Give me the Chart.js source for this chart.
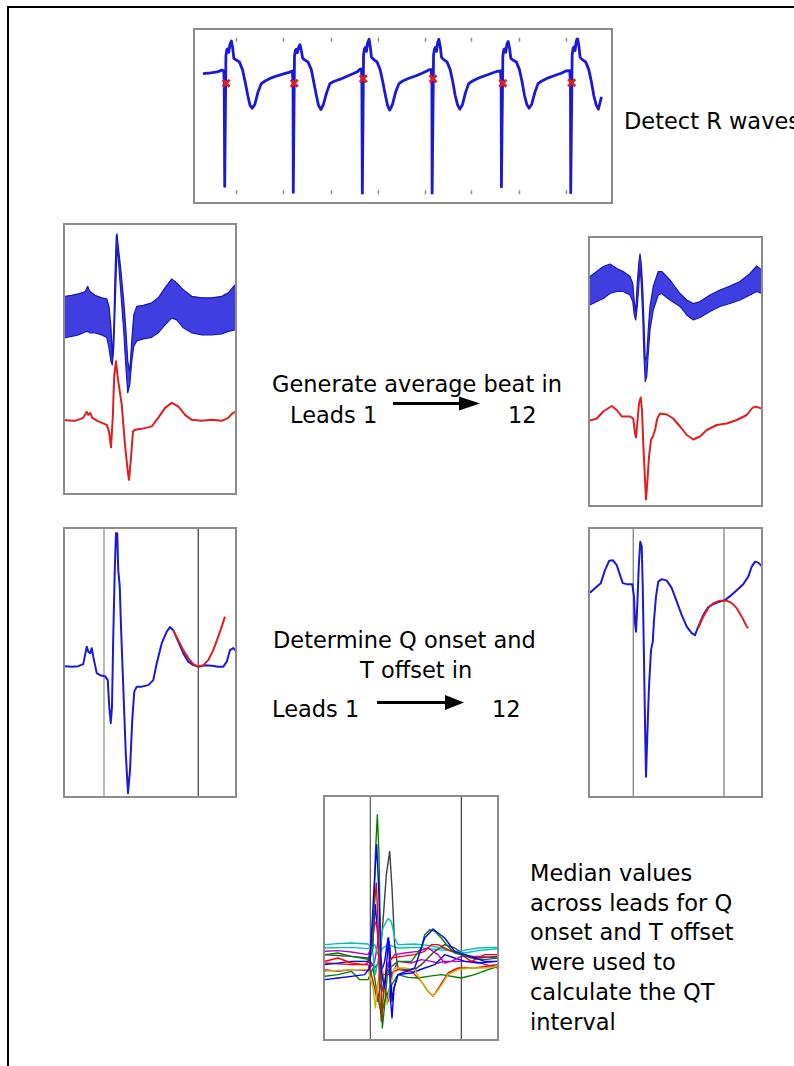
<!DOCTYPE html>
<html><head><meta charset="utf-8">
<script src="https://cdn.jsdelivr.net/npm/chart.js@4.4.0/dist/chart.umd.min.js"></script>
<style>
html,body{margin:0;padding:0;background:#fff;}
body{width:794px;height:1066px;position:relative;overflow:hidden;font-family:'DejaVu Sans',sans-serif;}
.frame{position:absolute;left:7px;top:6px;width:820px;height:1100px;border-left:2px solid #000;border-top:2px solid #000;}
.panel{position:absolute;border:2px solid #8c8c8c;box-sizing:border-box;background:#fff;}
.panel canvas{display:block;}
.txt{position:absolute;font-size:22.5px;line-height:30px;color:#000;white-space:nowrap;}
svg.arrows{position:absolute;left:0;top:0;}
</style></head><body>
<div class="frame"></div>
<div class="panel" style="left:193px;top:28px;width:420px;height:176px"><canvas id="strip" width="416" height="172"></canvas></div>
<div class="panel" style="left:63px;top:223px;width:174px;height:272px"><canvas id="avg1" width="170" height="268"></canvas></div>
<div class="panel" style="left:588px;top:236px;width:175px;height:271px"><canvas id="avg12" width="171" height="267"></canvas></div>
<div class="panel" style="left:63px;top:527px;width:174px;height:271px"><canvas id="qt1" width="170" height="267"></canvas></div>
<div class="panel" style="left:588px;top:527px;width:175px;height:271px"><canvas id="qt12" width="171" height="267"></canvas></div>
<div class="panel" style="left:323px;top:795px;width:176px;height:246px"><canvas id="all" width="172" height="242"></canvas></div>

<div class="txt" style="left:624px;top:105.5px">Detect R waves</div>
<div class="txt" style="left:272px;top:369px">Generate average beat in</div>
<div class="txt" style="left:290px;top:400px">Leads 1</div>
<div class="txt" style="left:508px;top:400px">12</div>
<div class="txt" style="left:273px;top:625px">Determine Q onset and</div>
<div class="txt" style="left:360px;top:655px">T offset in</div>
<div class="txt" style="left:272px;top:694px">Leads 1</div>
<div class="txt" style="left:492px;top:694px">12</div>
<div class="txt" style="left:530px;top:859px;line-height:29.7px">Median values<br>across leads for Q<br>onset and T offset<br>were used to<br>calculate the QT<br>interval</div>

<svg class="arrows" width="794" height="1066">
  <line x1="393" y1="403.5" x2="462" y2="403.5" stroke="#000" stroke-width="3"/>
  <polygon points="459,396.5 480,403.5 459,410.5" fill="#000"/>
  <line x1="377" y1="702.5" x2="447" y2="702.5" stroke="#000" stroke-width="3"/>
  <polygon points="445,695 464,702.5 445,710" fill="#000"/>
</svg>

<script>
// ---- Panel 1: raw ECG strip (time ms, amplitude mV) ----
const stripTimeMs = [4, 37, 64, 84,
 91, 93, 95, 100, 104, 108, 112, 117, 123, 128, 133, 143, 156, 169, 180, 191, 200, 209, 220, 233, 247, 263, 289, 316, 343, 363,
 376, 379, 380, 385, 389, 393, 397, 403, 408, 413, 419, 428, 441, 455, 465, 476, 485, 495, 505, 519, 532, 548, 575, 601, 628, 648, 657,
 663, 665, 667, 672, 676, 680, 684, 689, 695, 700, 705, 715, 728, 741, 752, 763, 772, 781, 792, 805, 819, 835, 861, 888, 915, 935, 945,
 953, 956, 957, 963, 967, 971, 975, 980, 985, 991, 996, 1005, 1019, 1032, 1043, 1053, 1063, 1072, 1083, 1096, 1109, 1125, 1152, 1179, 1205, 1225,
 1241, 1244, 1245, 1251, 1255, 1259, 1263, 1268, 1273, 1279, 1284, 1293, 1307, 1320, 1331, 1341, 1351, 1360, 1371, 1384, 1397, 1413, 1440, 1467, 1493, 1513,
 1529, 1532, 1533, 1539, 1543, 1547, 1551, 1556, 1561, 1567, 1572, 1581, 1595, 1608, 1619, 1629, 1639, 1648, 1661];
const stripAmpMv = [-0.03, -0.01, 0.01, 0.05,
 0.03, -0.24, -2.51, 0.36, 0.50, 0.52, 0.44, 0.62, 0.69, 0.54, 0.31, 0.27, 0.23, 0.06, -0.21, -0.51, -0.72, -0.79, -0.71, -0.44, -0.25, -0.19, -0.12, -0.07, -0.03, 0.00,
 0.03, -0.24, -2.64, 0.36, 0.49, 0.51, 0.43, 0.57, 0.61, 0.49, 0.31, 0.27, 0.23, 0.06, -0.21, -0.51, -0.73, -0.82, -0.71, -0.44, -0.25, -0.20, -0.15, -0.09, -0.03, 0.02, 0.07,
 0.07, -0.14, -2.69, 0.38, 0.52, 0.55, 0.46, 0.65, 0.73, 0.56, 0.33, 0.28, 0.23, 0.06, -0.21, -0.51, -0.73, -0.83, -0.71, -0.44, -0.25, -0.19, -0.13, -0.08, -0.02, 0.03, 0.06,
 0.06, -0.14, -2.69, 0.38, 0.52, 0.55, 0.46, 0.65, 0.73, 0.56, 0.33, 0.28, 0.23, 0.06, -0.21, -0.51, -0.72, -0.81, -0.71, -0.44, -0.25, -0.19, -0.12, -0.07, -0.02, 0.02,
 0.03, -0.24, -2.52, 0.36, 0.50, 0.52, 0.44, 0.62, 0.68, 0.53, 0.31, 0.27, 0.23, 0.06, -0.21, -0.51, -0.71, -0.79, -0.70, -0.44, -0.25, -0.19, -0.12, -0.07, -0.02, 0.03,
 0.04, -0.23, -2.65, 0.38, 0.53, 0.56, 0.48, 0.68, 0.76, 0.58, 0.33, 0.28, 0.23, 0.06, -0.21, -0.51, -0.72, -0.81, -0.54];
const rWaveTimeMs = [101, 384, 671, 961, 1251, 1537];
const rWaveAmpMv = [-0.24, -0.24, -0.14, -0.14, -0.24, -0.23];
const stripTickMs = [140, 336, 536, 732, 928, 1120, 1316, 1512];

// ---- Panel 2: beats of lead 1 (envelope of overlaid beats) and average ----
const avg1BandTimeMs = [-3, 27, 53, 80, 91, 99, 120, 147, 167, 176, 184, 189, 195, 200, 205, 208, 213, 224, 235, 243, 251, 259, 267, 275, 287, 313, 347, 373, 400, 427, 447, 473, 507, 547, 587, 627, 653, 680];
const avg1BandUpperMv = [2.48, 2.50, 2.53, 2.57, 2.68, 2.58, 2.50, 2.45, 2.43, 2.28, 1.85, 1.25, 1.85, 2.91, 3.68, 3.73, 3.48, 2.98, 2.38, 1.85, 1.18, 0.98, 1.58, 2.11, 2.28, 2.30, 2.35, 2.45, 2.65, 2.83, 2.75, 2.61, 2.48, 2.45, 2.45, 2.48, 2.55, 2.71];
const avg1BandLowerMv = [1.65, 1.68, 1.71, 1.77, 1.78, 1.75, 1.75, 1.71, 1.66, 1.45, 1.17, 1.11, 1.45, 2.18, 2.98, 3.45, 3.25, 2.51, 1.78, 1.11, 0.55, 0.71, 1.18, 1.48, 1.59, 1.63, 1.66, 1.75, 1.91, 2.05, 2.01, 1.85, 1.75, 1.71, 1.71, 1.73, 1.78, 1.81];
const avg1MeanTimeMs = [0, 40, 73, 87, 93, 101, 109, 133, 167, 176, 184, 191, 197, 204, 211, 217, 227, 240, 251, 256, 264, 272, 280, 307, 347, 373, 400, 427, 453, 480, 507, 547, 587, 627, 653, 667, 680];
const avg1MeanMv = [0, -0.01, 0.05, 0.17, 0.11, 0.15, 0.05, -0.02, -0.09, -0.22, -0.54, 0.05, 0.91, 1.18, 0.85, 0.65, 0.31, -0.49, -1.02, -1.19, -0.75, -0.22, -0.19, -0.17, -0.12, 0.05, 0.25, 0.35, 0.28, 0.11, 0.01, -0.01, 0.01, -0.01, 0.05, 0.13, 0.17];

// ---- Panel 3: beats of lead 12 and average ----
const avg12BandTimeMs = [0, 27, 53, 80, 107, 133, 160, 171, 177, 183, 189, 195, 200, 205, 211, 216, 221, 227, 233, 240, 253, 273, 287, 320, 360, 387, 413, 440, 480, 520, 560, 600, 640, 667, 687];
const avg12BandUpperMv = [2.87, 2.97, 3.07, 3.12, 3.03, 2.97, 2.87, 2.73, 2.37, 2.17, 2.73, 3.13, 3.32, 3.13, 2.63, 1.93, 1.20, 1.27, 1.80, 2.27, 2.67, 2.97, 2.97, 2.80, 2.53, 2.40, 2.33, 2.37, 2.50, 2.60, 2.68, 2.77, 2.93, 3.08, 3.00];
const avg12BandLowerMv = [2.30, 2.37, 2.43, 2.53, 2.57, 2.57, 2.50, 2.37, 2.10, 2.00, 2.27, 2.67, 3.07, 2.73, 2.07, 1.27, 0.77, 0.87, 1.33, 1.80, 2.20, 2.50, 2.53, 2.40, 2.27, 2.10, 2.00, 2.05, 2.17, 2.27, 2.33, 2.40, 2.50, 2.57, 2.53];
const avg12MeanTimeMs = [0, 27, 53, 87, 107, 127, 160, 173, 180, 184, 189, 196, 203, 208, 213, 220, 224, 229, 236, 244, 251, 260, 269, 280, 307, 333, 360, 387, 413, 440, 467, 507, 547, 587, 627, 647, 660, 687];
const avg12MeanMv = [-0.01, 0.03, 0.17, 0.28, 0.20, 0.07, 0.07, 0.03, -0.27, -0.35, -0.07, 0.33, 0.45, 0.20, -0.47, -1.20, -1.59, -1.27, -0.73, -0.40, -0.33, -0.20, 0.03, 0.13, 0.11, 0.03, -0.13, -0.30, -0.39, -0.33, -0.20, -0.10, -0.07, 0.00, 0.10, 0.23, 0.27, 0.23];

// ---- Panel 4: lead 1 average with Q onset / T offset ----
const qt1TimeMs = [0, 27, 53, 73, 87, 93, 101, 107, 113, 127, 140, 160, 171, 177, 183, 188, 193, 199, 204, 209, 213, 219, 224, 233, 243, 252, 260, 269, 277, 287, 307, 333, 353, 367, 387, 407, 420, 433, 453, 473, 493, 513, 533, 560, 587, 613, 633, 647, 660, 673, 687];
const qt1Mv = [0.01, 0.00, 0.01, 0.05, 0.40, 0.30, 0.27, 0.37, 0.20, -0.13, -0.17, -0.19, -0.27, -0.80, -1.13, -0.80, 0.60, 1.93, 2.67, 2.67, 1.93, 1.60, 0.80, -0.40, -1.73, -2.53, -2.07, -1.07, -0.50, -0.40, -0.40, -0.37, -0.27, 0.07, 0.47, 0.70, 0.79, 0.73, 0.50, 0.27, 0.10, 0.03, 0.00, 0.03, 0.02, 0.00, 0.00, 0.10, 0.33, 0.37, 0.30];
const qt1FitTimeMs = [433, 453, 473, 493, 513, 533, 553, 573, 593, 613, 627, 640];
const qt1FitMv = [0.73, 0.53, 0.33, 0.17, 0.05, 0.00, 0.03, 0.13, 0.33, 0.60, 0.80, 1.00];
const qt1OnsetMs = 156, qt1OffsetMs = 533;

// ---- Panel 5: lead 12 average with Q onset / T offset ----
const qt12TimeMs = [0, 20, 43, 60, 77, 91, 107, 120, 131, 147, 169, 176, 180, 184, 189, 195, 201, 207, 211, 216, 221, 224, 229, 236, 244, 251, 256, 264, 273, 287, 307, 327, 347, 367, 387, 407, 420, 433, 453, 473, 493, 520, 540, 560, 587, 613, 633, 647, 660, 673, 687];
const qt12Mv = [-0.12, -0.03, 0.07, 0.33, 0.52, 0.53, 0.43, 0.23, 0.07, 0.05, 0.05, -0.20, -0.73, -0.90, -0.40, 0.40, 0.90, 0.80, 0.00, -1.47, -3.00, -3.80, -3.00, -2.00, -1.27, -1.10, -0.67, -0.20, 0.10, 0.15, 0.12, -0.03, -0.30, -0.57, -0.80, -0.93, -0.97, -0.80, -0.57, -0.41, -0.35, -0.30, -0.27, -0.19, -0.07, 0.05, 0.20, 0.40, 0.50, 0.48, 0.41];
const qt12FitTimeMs = [433, 453, 473, 493, 520, 547, 567, 587, 607, 627, 633];
const qt12FitMv = [-0.83, -0.60, -0.43, -0.33, -0.28, -0.28, -0.33, -0.43, -0.60, -0.80, -0.83];
const qt12OnsetMs = 173, qt12OffsetMs = 536;

// ---- Panel 6: all 12 lead averages (sample index, amplitude a.u.) ----
const lead1X = [20,60,100,140,155,168,176,182,190,200,208,212,218,222,228,240,290,320,345,380,410,440,500,540];
const lead1Y = [-55,-50,-45,-40,-20,220,350,220,-30,-80,20,70,-120,-170,-80,-40,-20,70,97,70,30,20,0,0];
const lead2X = [20,60,100,130,155,165,172,178,183,188,193,200,208,215,240,280,310,320,335,350,370,390,410,430,460,500,540];
const lead2Y = [20,25,15,10,5,40,320,440,320,20,-200,-130,-40,-20,0,0,40,80,95,90,70,45,25,20,10,5,10];
const lead3X = [20,60,100,140,155,165,175,180,185,190,198,208,220,250,290,320,340,360,380,400,430,460,500,540];
const lead3Y = [0,10,-5,-10,0,120,235,120,-100,-180,-80,-10,10,15,20,30,50,50,40,30,20,0,20,20];
const lead4X = [20,60,100,150,163,172,180,195,210,220,230,240,290,330,370,410,440,480,540];
const lead4Y = [50,53,55,52,40,-40,0,100,128,120,70,50,52,48,40,30,25,32,38];
const lead5X = [20,60,100,150,163,170,178,186,195,205,215,230,260,300,330,360,380,400,430,480,540];
const lead5Y = [30,32,28,20,50,120,100,-40,-90,-40,0,20,25,30,40,20,-5,0,15,15,10];
const lead6X = [20,100,150,165,172,180,190,200,208,215,230,260,290,310,330,345,365,390,420,460,500,540];
const lead6Y = [-30,-25,-25,-80,-140,-60,-10,-90,-130,-80,-20,-20,-25,-60,-90,-105,-80,-40,-25,-20,-20,-15];
const lead7X = [20,100,150,170,185,195,205,215,222,230,240,260,290,310,330,350,380,410,440,480,540];
const lead7Y = [20,15,10,-20,0,120,260,330,220,50,-20,-25,-25,-10,10,30,50,40,20,10,15];
const lead8X = [20,100,150,165,172,180,188,200,210,216,222,228,240,280,320,350,380,410,440,480,540];
const lead8Y = [-10,0,0,70,170,70,-40,0,70,40,-120,-80,-40,-35,-20,-10,20,10,0,-5,0];
const lead9X = [20,60,100,125,150,165,178,190,200,215,240,270,300,330,370,430,470,510,540];
const lead9Y = [-45,-40,-30,-55,-55,-20,-100,-160,-120,-80,-40,-48,-50,-45,-40,-50,-40,-25,-15];
const lead10X = [20,100,150,160,170,178,186,196,210,240,280,310,330,345,365,390,420,470,540];
const lead10Y = [-5,-10,-10,-40,-80,-120,-80,-40,-40,-25,-30,-60,-90,-105,-75,-35,-20,-20,-10];
const lead11X = [20,100,150,170,180,195,210,240,300,360,420,480,540];
const lead11Y = [40,42,38,50,20,40,50,40,42,35,30,40,42];
const lead12X = [20,60,100,150,170,180,190,200,212,222,240,280,310,340,360,380,420,470,540];
const lead12Y = [-25,-30,-25,-28,0,60,0,-80,-120,-40,0,-5,5,0,-5,0,0,0,-20];
const allOnsetSample = 157, allOffsetSample = 430;

// ---------------- drawing ----------------
const BLUE = '#1a1ad6', RED = '#e01e1e';
function pts(xs, ys){ return xs.map((x,i)=>({x:x, y:ys[i]})); }
function line(xs, ys, color, width, extra){
  return Object.assign({data:pts(xs,ys), borderColor:color, borderWidth:width, pointRadius:0, fill:false, tension:0, borderJoinStyle:'round'}, extra||{});
}
function vline(x, yr, color){
  return {data:[{x:x,y:yr[0]},{x:x,y:yr[1]}], borderColor:color, borderWidth:1.2, pointRadius:0, fill:false};
}
function make(id, xr, yr, datasets, plugins){
  return new Chart(document.getElementById(id), {
    type:'line',
    data:{datasets:datasets},
    options:{
      responsive:false, animation:false, events:[],
      layout:{padding:0},
      plugins:{legend:{display:false}, tooltip:{enabled:false}},
      scales:{
        x:{type:'linear', min:xr[0], max:xr[1], display:false},
        y:{type:'linear', min:yr[0], max:yr[1], display:false}
      }
    },
    plugins:plugins||[]
  });
}

const tickPlugin = {
  id:'stripTicks',
  afterDraw(chart){
    const c = chart.ctx, a = chart.chartArea, sx = chart.scales.x;
    c.save(); c.strokeStyle = '#8c8c8c'; c.lineWidth = 1.5;
    stripTickMs.forEach(t=>{
      const px = Math.round(sx.getPixelForValue(t)) + 0.5;
      c.beginPath(); c.moveTo(px, a.bottom); c.lineTo(px, a.bottom - 4); c.stroke();
      c.beginPath(); c.moveTo(px, a.top); c.lineTo(px, a.top + 4); c.stroke();
    });
    c.restore();
  }
};

// Panel 1
make('strip', [4, 1668], [-2.68, 0.76], [
  {data:pts(rWaveTimeMs, rWaveAmpMv), showLine:false, pointStyle:'crossRot', pointRadius:5, pointBorderWidth:2.8, pointBorderColor:RED, borderColor:RED},
  line(stripTimeMs, stripAmpMv, BLUE, 2.8)
], [tickPlugin]);

// Panel 2
const yr1 = [-1.453, 3.907];
make('avg1', [0, 680], yr1, [
  line(avg1MeanTimeMs, avg1MeanMv, RED, 2),
  line(avg1BandTimeMs, avg1BandUpperMv, '#1616b8', 1.2, {fill:'+1', backgroundColor:'rgba(28,28,220,0.85)'}),
  line(avg1BandTimeMs, avg1BandLowerMv, '#1616b8', 1.2)
]);

// Panel 3
const yr12 = [-1.70, 3.64];
make('avg12', [0, 684], yr12, [
  line(avg12MeanTimeMs, avg12MeanMv, RED, 2),
  line(avg12BandTimeMs, avg12BandUpperMv, '#1616b8', 1.2, {fill:'+1', backgroundColor:'rgba(28,28,220,0.85)'}),
  line(avg12BandTimeMs, avg12BandLowerMv, '#1616b8', 1.2)
]);

// Panel 4
const yq1 = [-2.587, 2.753];
make('qt1', [0, 680], yq1, [
  line(qt1FitTimeMs, qt1FitMv, RED, 2),
  line(qt1TimeMs, qt1Mv, BLUE, 2),
  vline(qt1OnsetMs, yq1, '#8a8a8a'),
  vline(qt1OffsetMs, yq1, '#3a3a3a')
]);

// Panel 5
const yq12 = [-4.187, 1.153];
make('qt12', [0, 684], yq12, [
  line(qt12FitTimeMs, qt12FitMv, RED, 2),
  line(qt12TimeMs, qt12Mv, BLUE, 2),
  vline(qt12OnsetMs, yq12, '#777777'),
  vline(qt12OffsetMs, yq12, '#777777')
]);

// Panel 6
const yall = [-233, 493];
const leadColors = ['#0000ff','#008000','#ff0000','#00bfbf','#bf00bf','#bfbf00','#404040','#0000ff','#008000','#ff0000','#00bfbf','#bf00bf'];
const leadXs = [lead1X,lead2X,lead3X,lead4X,lead5X,lead6X,lead7X,lead8X,lead9X,lead10X,lead11X,lead12X];
const leadYs = [lead1Y,lead2Y,lead3Y,lead4Y,lead5Y,lead6Y,lead7Y,lead8Y,lead9Y,lead10Y,lead11Y,lead12Y];
const allSets = leadXs.map((xs,i)=>line(xs, leadYs[i], leadColors[i], 1.4));
allSets.push(vline(allOnsetSample, yall, '#555555'));
allSets.push(vline(allOffsetSample, yall, '#404040'));
make('all', [21, 537], yall, allSets);
</script>
</body></html>
